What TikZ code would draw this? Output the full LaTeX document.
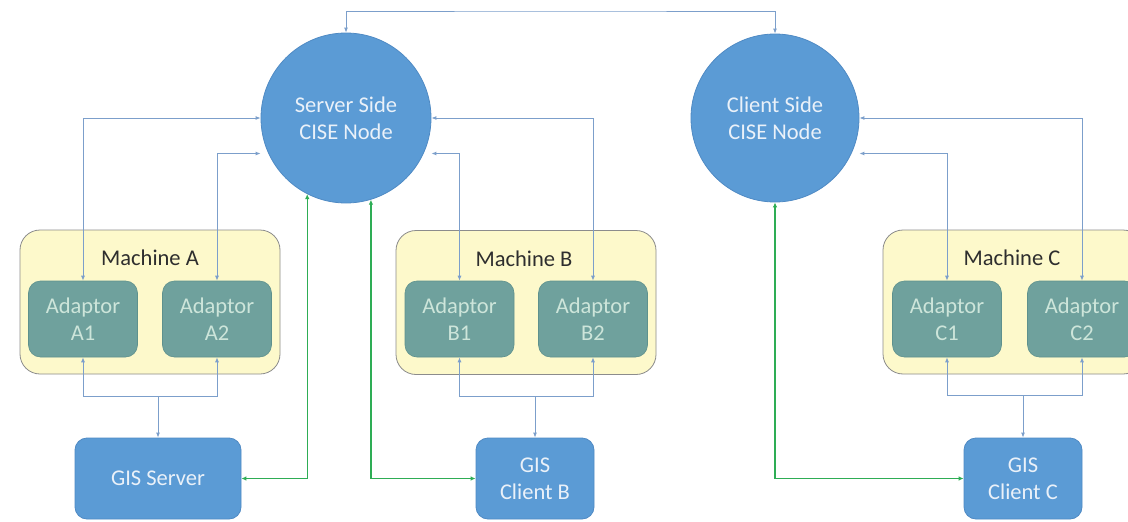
\documentclass[tikz,border=0pt]{standalone}
\usepackage{fontspec}
\setmainfont{Carlito}
\usetikzlibrary{arrows.meta}
\definecolor{nodeblue}{HTML}{5B9BD5}
\definecolor{nodeblueedge}{HTML}{4F8AC4}
\definecolor{adfill}{HTML}{6FA19D}
\definecolor{adedge}{HTML}{5E918D}
\definecolor{adtext}{HTML}{CDE5DA}
\definecolor{mfill}{HTML}{FDF9CB}
\definecolor{medge}{HTML}{8C8C8C}
\definecolor{conncol}{HTML}{7C9FCB}
\definecolor{greencol}{HTML}{2EAD55}
\definecolor{btext}{HTML}{EAF1F9}
\definecolor{mtext}{HTML}{2E2E2E}
\begin{document}
\begin{tikzpicture}[x=1pt,y=-1pt,
  every node/.style={font=\fontsize{22.5}{27}\selectfont, align=center, inner sep=0pt},
  cise/.style={circle, fill=nodeblue, draw=nodeblueedge, line width=0.8pt, text=btext, minimum size=170pt},
  gisbox/.style={rectangle, rounded corners=12pt, fill=nodeblue, draw=nodeblueedge, line width=0.8pt, text=btext, minimum height=81pt},
  adaptor/.style={rectangle, rounded corners=12pt, fill=adfill, draw=adedge, line width=0.6pt, text=adtext, minimum width=109pt, minimum height=76pt},
  machine/.style={rectangle, rounded corners=20pt, fill=mfill, draw=medge, line width=0.8pt, minimum width=260pt, minimum height=144pt},
  mlabel/.style={text=mtext},
  conn/.style={draw=conncol, line width=0.9pt, {Latex[length=5pt,width=4pt]}-{Latex[length=5pt,width=4pt]}},
  conone/.style={draw=conncol, line width=0.9pt, -{Latex[length=5pt,width=4pt]}},
  gconn/.style={draw=greencol, line width=1.3pt, {Latex[length=5pt,width=4.5pt]}-{Latex[length=5pt,width=4.5pt]}}
]
\path[use as bounding box] (0,0) rectangle (1128,522);
\clip (0,0) rectangle (1128,522);
\fill[white] (0,0) rectangle (1128,522);

% machines
\node[machine] (mA) at (150,302) {};
\node[machine] (mB) at (526,302.5) {};
\node[machine] (mC) at (1013,302) {};
\node[mlabel] (lA) at (150,258) {Machine A};
\node[mlabel] (lB) at (524,259) {Machine B};
\node[mlabel] (lC) at (1012,258) {Machine C};

% adaptors
\node[adaptor] (A1) at (83,319) {Adaptor\\A1};
\node[adaptor] (A2) at (217,319) {Adaptor\\A2};
\node[adaptor] (B1) at (459.5,319) {Adaptor\\B1};
\node[adaptor] (B2) at (593,319) {Adaptor\\B2};
\node[adaptor] (C1) at (947,319) {Adaptor\\C1};
\node[adaptor] (C2) at (1082,319) {Adaptor\\C2};

% CISE nodes
\node[cise] (server) at (346,118) {Server Side\\CISE Node};
\node[cise, minimum size=168pt] (client) at (775,118) {Client Side\\CISE Node};

% GIS nodes
\node[gisbox, minimum width=166pt] (gisS) at (158,478.5) {GIS Server};
\node[gisbox, minimum width=118pt] (gisB) at (535,478.5) {GIS\\Client B};
\node[gisbox, minimum width=118pt] (gisC) at (1023,478.5) {GIS\\Client C};

% top link
\coordinate (top) at (560,11);
\draw[conn] (server.north) |- (top) -| (client.north);

% adaptor to CISE links
\draw[conn] (A1.north) |- (server.west);
\draw[conn] (A2.north) |- ([yshift=-35.5pt]server.west);
\draw[conn] (B2.north) |- (server.east);
\draw[conn] (B1.north) |- ([yshift=-35.5pt]server.east);
\draw[conn] (C2.north) |- (client.east);
\draw[conn] (C1.north) |- ([yshift=-35.5pt]client.east);

% adaptor to GIS links
\coordinate (jA) at (158,396);
\coordinate (jB) at (535,396);
\coordinate (jC) at (1023,395);
\draw[conone] (jA) -| (A1.south);
\draw[conone] (jA) -| (A2.south);
\draw[conone] (jA) -- (gisS.north);
\draw[conone] (jB) -| (B1.south);
\draw[conone] (jB) -| (B2.south);
\draw[conone] (jB) -- (gisB.north);
\draw[conone] (jC) -| (C1.south);
\draw[conone] (jC) -| (C2.south);
\draw[conone] (jC) -- (gisC.north);

% green links
\draw[gconn] (gisS.east) -| (server.243.4);
\draw[gconn] (server.287.8) |- (gisB.west);
\draw[gconn] (client.south) |- (gisC.west);
\end{tikzpicture}
\end{document}
